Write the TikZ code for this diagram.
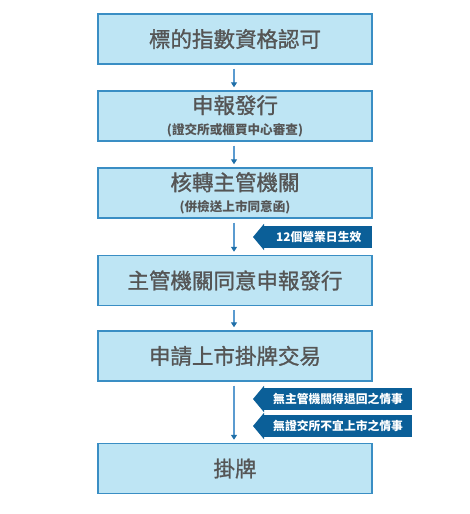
\documentclass[tikz,border=0pt]{standalone}
\usepackage{fontspec}
\setmainfont{Noto Sans CJK TC}
\newfontfamily\cjkmed{Noto Sans CJK TC}[FakeBold=1.2]
\usetikzlibrary{arrows.meta}
\definecolor{boxfill}{HTML}{BEE5F4}
\definecolor{boxline}{HTML}{3A8EC4}
\definecolor{arrline}{HTML}{5B9BD0}
\definecolor{arrhead}{HTML}{1F6FA8}
\definecolor{tagfill}{HTML}{0B5F98}
\definecolor{txt}{HTML}{555555}
\newcommand{\mainsz}{\cjkmed\fontsize{21.5}{24}\selectfont}
\newcommand{\subsz}{\fontsize{12.6}{13}\selectfont\bfseries}
\tikzset{
  stepbox/.style={draw=boxline, line width=1.4pt, fill=boxfill, minimum width=274pt, minimum height=50pt, inner sep=0pt, align=center, text=txt},
  maintxt/.style={font=\mainsz},
  flow/.style={draw=arrline, line width=1.6pt, -{Triangle[length=5pt,width=6pt,color=arrhead]}},
  tagbox/.style={fill=tagfill, text=white, inner sep=0pt, minimum height=22pt, font=\fontsize{11.8}{14}\selectfont\bfseries, anchor=west, align=left},
}
\begin{document}
\begin{tikzpicture}[x=1pt,y=-1pt]
\useasboundingbox (0,0) rectangle (470,514);
\node[stepbox, maintxt] (b1) at (235,39) {標的指數資格認可};
\node[stepbox] (b2) at (235,116) {\mainsz 申報發行\\[7pt]\subsz (證交所或櫃買中心審查)};
\node[stepbox] (b3) at (235,193) {\mainsz 核轉主管機關\\[7pt]\subsz (併檢送上市同意函)};
\node[stepbox, maintxt] (b4) at (235,280.5) {主管機關同意申報發行};
\node[stepbox, maintxt] (b5) at (235,356) {申請上市掛牌交易};
\node[stepbox, maintxt] (b6) at (235,468.5) {掛牌};
\foreach \a/\b in {b1/b2,b2/b3,b3/b4,b4/b5,b5/b6}
  \draw[flow, shorten <=4pt, shorten >=3pt] (\a.south -| 234,0) -- (\b.north -| 234,0);
\node[tagbox, minimum width=108pt, text width=104pt] (t1) at (264,237) {\hspace*{10pt}12個營業日生效};
\node[tagbox, minimum width=148pt, text width=144pt] (t2) at (264,399) {\hspace*{7pt}無主管機關得退回之情事};
\node[tagbox, minimum width=148pt, text width=144pt] (t3) at (264,426) {\hspace*{7pt}無證交所不宜上市之情事};
\foreach \t in {t1,t2,t3}
  \fill[tagfill] ([yshift=2pt]\t.north west) -- ([xshift=-11pt]\t.west) -- ([yshift=-2pt]\t.south west) -- cycle;
\end{tikzpicture}
\end{document}
